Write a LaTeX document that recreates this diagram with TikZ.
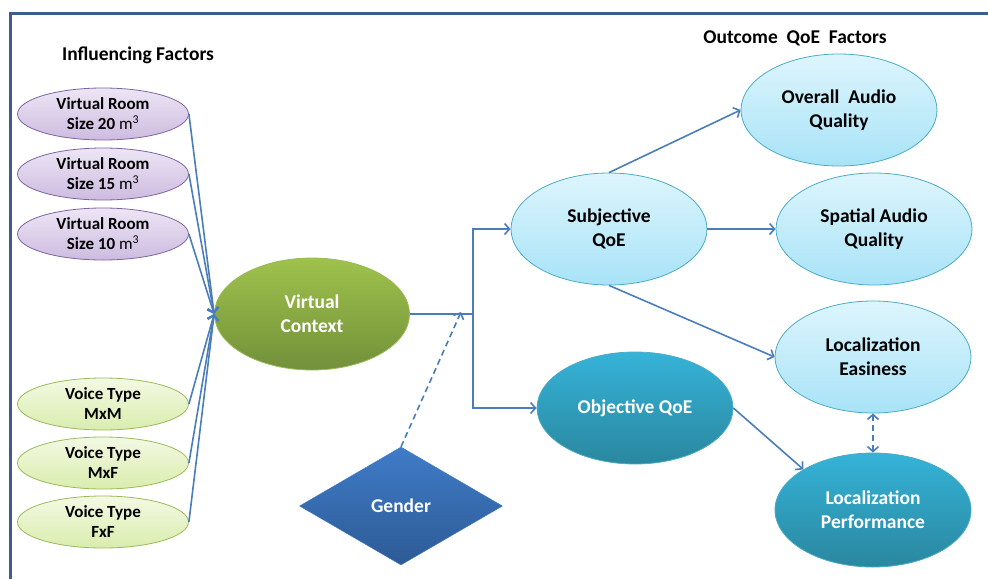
\documentclass[tikz,border=0pt]{standalone}
\usepackage{fontspec}
\setmainfont{Carlito}
\usetikzlibrary{shapes.geometric,arrows.meta}
\definecolor{arr}{HTML}{4A7EBB}
\definecolor{framec}{HTML}{3A5F8F}
\definecolor{purpT}{HTML}{EDE6F5}
\definecolor{purpB}{HTML}{CDBBE0}
\definecolor{purpD}{HTML}{8064A2}
\definecolor{lgrT}{HTML}{F3F9E3}
\definecolor{lgrB}{HTML}{D9EDAE}
\definecolor{lgrD}{HTML}{9BBB59}
\definecolor{cyT}{HTML}{DDF5FD}
\definecolor{cyB}{HTML}{A8E3F7}
\definecolor{cyD}{HTML}{4BACC6}
\definecolor{dcT}{HTML}{35B3D8}
\definecolor{dcB}{HTML}{2A879F}
\definecolor{dcD}{HTML}{4BACC6}
\definecolor{vcT}{HTML}{9FC24C}
\definecolor{vcB}{HTML}{72903A}
\definecolor{gT}{HTML}{3F7CC8}
\definecolor{gB}{HTML}{2D5A95}
\tikzset{
  lbl/.style={font=\fontsize{17}{20}\selectfont, align=center, inner sep=0pt},
  oval/.style={ellipse, lbl, minimum width=171pt, minimum height=52pt, line width=0.8pt},
  purp/.style={oval, top color=purpT, bottom color=purpB, draw=purpD},
  lgreen/.style={oval, top color=lgrT, bottom color=lgrB, draw=lgrD},
  bigfont/.style={font=\fontsize{19.5}{24}\selectfont\bfseries},
  bigoval/.style={ellipse, lbl, bigfont, minimum width=196pt, minimum height=112pt, line width=0.8pt},
  lcyan/.style={bigoval, top color=cyT, bottom color=cyB, draw=cyD},
  dcyan/.style={bigoval, top color=dcT, bottom color=dcB, draw=dcD, text=white},
  tip/.style={Straight Barb[length=5pt,width=11pt]},
  con/.style={draw=arr, line width=1.6pt, -{Straight Barb[length=5pt,width=11pt]}},
  dsh/.style={dash pattern=on 6pt off 4pt},
  title/.style={font=\fontsize{19.5}{22}\selectfont\bfseries, inner sep=0pt}
}
\begin{document}
\begin{tikzpicture}[x=1pt,y=-1pt]
\useasboundingbox (0,0) rectangle (988,579);
\fill[white] (0,0) rectangle (988,579);
\draw[framec, line width=3pt] (10,579) -- (10,13) -- (988,13);

\node[title] (inf) at (138,55) {Influencing Factors};
\node[title] (out) at (795,38) {Outcome\ \ QoE\ \ Factors};

\node[purp] (r20) at (103,114) {\textbf{Virtual Room}\\\textbf{Size 20} m\textsuperscript{3}};
\node[purp] (r15) at (103,174) {\textbf{Virtual Room}\\\textbf{Size 15} m\textsuperscript{3}};
\node[purp] (r10) at (103,234) {\textbf{Virtual Room}\\\textbf{Size 10} m\textsuperscript{3}};
\node[lgreen] (mm) at (103,404) {\textbf{Voice Type}\\\textbf{MxM}};
\node[lgreen] (mf) at (103,463) {\textbf{Voice Type}\\\textbf{MxF}};
\node[lgreen] (ff) at (103,522) {\textbf{Voice Type}\\\textbf{FxF}};

\node[ellipse, lbl, bigfont, minimum width=195pt, minimum height=112pt, top color=vcT, bottom color=vcB, draw=lgrD, line width=0.8pt, text=white] (vc) at (312,314) {Virtual\\Context};

\node[diamond, lbl, bigfont, minimum width=203pt, minimum height=118pt, top color=gT, bottom color=gB, draw=gT, text=white] (gen) at (401,506) {Gender};

\node[lcyan] (sub) at (609,229) {Subjective\\QoE};
\node[lcyan] (ova) at (839,110) {Overall\ \ Audio\\Quality};
\node[lcyan] (spa) at (874,229) {Spatial Audio\\Quality};
\node[lcyan] (le) at (873,357) {Localization\\Easiness};
\node[dcyan] (obj) at (635,408) {Objective QoE};
\node[dcyan, minimum height=114pt] (lp) at (873,510) {Localization\\Performance};

\foreach \n in {r20,r15,r10,mm,mf,ff} \draw[con] (\n.east) -- (vc.west);

\coordinate (j) at (473,314);
\coordinate (gend) at (461,312);
\draw[draw=arr, line width=1.6pt] (vc.east) -- (j);
\draw[con] (j) |- (sub.west);
\draw[con] (j) |- (obj.west);
\draw[con, dsh] (gen.north) -- (gend);

\draw[con] (sub.north) -- (ova.west);
\draw[con] (sub.east) -- (spa.west);
\draw[con] (sub.south) -- (le.west);
\draw[con] (obj.east) -- (lp.north west);
\draw[con, dsh, {Straight Barb[length=5pt,width=11pt]}-{Straight Barb[length=5pt,width=11pt]}] (le.south) -- (lp.north);
\end{tikzpicture}
\end{document}
